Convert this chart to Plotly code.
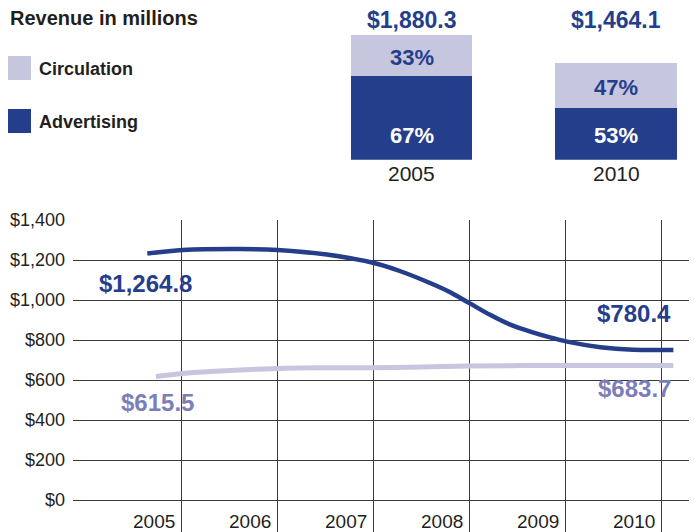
import plotly.graph_objects as go

# ---------------- data ----------------
bar_years = ["2005", "2010"]
advertising_totals = [1264.8, 780.4]
circulation_totals = [615.5, 683.7]

# line chart (x in years, label-centred)
adv_x = [2004.93, 2005.30, 2005.90, 2006.29, 2006.80, 2007.28, 2007.56, 2007.875,
         2008.08, 2008.29, 2008.50, 2008.71, 2008.92, 2009.125, 2009.29, 2009.65,
         2009.99, 2010.41]
adv_y = [1233, 1250, 1255, 1250, 1227, 1186, 1145, 1085,
         1040, 983, 926, 877, 842, 813, 793, 764,
         751, 750]
circ_x = [2005.02, 2005.30, 2006.29, 2006.80, 2007.29, 2007.65, 2008.29, 2009.29, 2010.41]
circ_y = [617, 633, 658, 661, 661, 664, 670, 673, 673]

year_labels = ["2005", "2006", "2007", "2008", "2009", "2010"]
year_values = [2005, 2006, 2007, 2008, 2009, 2010]
y_ticks = [0, 200, 400, 600, 800, 1000, 1200, 1400]

# ---------------- style ----------------
OFF = 8                      # page body margin in the browser
W, H = 697 - OFF, 532 - OFF
BLUE = "#253e8c"
LIGHT = "#c6c7df"
LIGHT_TXT = "#7b7eb9"
TXT = "#231f20"
GRID = "#3a3a3a"
FONT = "Liberation Sans, Arial, sans-serif"


def px(x):
    """window pixel x -> paper fraction"""
    return (x - OFF) / W


def py(y):
    """window pixel y -> paper fraction"""
    return 1 - (y - OFF) / H


fig = go.Figure()

# ---------------- top stacked bars ----------------
fig.add_trace(go.Bar(x=bar_years, y=advertising_totals, marker_color=BLUE,
                     marker_line_width=0, width=0.592, xaxis="x3", yaxis="y3",
                     hoverinfo="skip"))
fig.add_trace(go.Bar(x=bar_years, y=circulation_totals, marker_color=LIGHT,
                     marker_line_width=0, width=0.592, xaxis="x3", yaxis="y3",
                     hoverinfo="skip"))

# ---------------- lines ----------------
fig.add_trace(go.Scatter(x=adv_x, y=adv_y, mode="lines",
                         line=dict(color=BLUE, width=4.5, shape="spline", smoothing=0.8),
                         hoverinfo="skip"))
fig.add_trace(go.Scatter(x=circ_x, y=circ_y, mode="lines",
                         line=dict(color=LIGHT, width=5, shape="spline", smoothing=0.8),
                         hoverinfo="skip"))

ann = []
# title and legend
ann.append(dict(x=px(8), y=py(18), xref="paper", yref="paper", xanchor="left",
                yanchor="middle", text="<b>Revenue in millions</b>", showarrow=False,
                font=dict(size=20, color=TXT, family=FONT)))
ann.append(dict(x=px(37), y=py(69), xref="paper", yref="paper", xanchor="left",
                yanchor="middle", text="<b>Circulation</b>", showarrow=False,
                font=dict(size=18, color=TXT, family=FONT)))
ann.append(dict(x=px(37), y=py(122), xref="paper", yref="paper", xanchor="left",
                yanchor="middle", text="<b>Advertising</b>", showarrow=False,
                font=dict(size=18, color=TXT, family=FONT)))

shapes = [
    dict(type="rect", xref="paper", yref="paper", x0=px(8), x1=px(31),
         y0=py(80), y1=py(56), fillcolor=LIGHT, line_width=0),
    dict(type="rect", xref="paper", yref="paper", x0=px(8), x1=px(31),
         y0=py(133), y1=py(109), fillcolor=BLUE, line_width=0),
]

# bar annotations (category index positions)
for i, (yr, a, c) in enumerate(zip(bar_years, advertising_totals, circulation_totals)):
    tot = a + c
    ann.append(dict(x=i, y=py(20), xref="x3", yref="paper", yanchor="middle",
                    text=f"<b>${tot:,.1f}</b>", showarrow=False,
                    font=dict(size=23, color=BLUE, family=FONT)))
    ann.append(dict(x=i, y=a + c / 2, xref="x3", yref="y3", yanchor="middle",
                    yshift=-2, text=f"<b>{round(c / tot * 100)}%</b>", showarrow=False,
                    font=dict(size=22, color=BLUE, family=FONT)))
    ann.append(dict(x=i, y=py(135), xref="x3", yref="paper", yanchor="middle",
                    text=f"<b>{round(a / tot * 100)}%</b>", showarrow=False,
                    font=dict(size=22, color="white", family=FONT)))
    ann.append(dict(x=i, y=py(173), xref="x3", yref="paper", yanchor="middle",
                    text=yr, showarrow=False,
                    font=dict(size=21, color=TXT, family=FONT)))

# x year labels of line chart
for v, t in zip(year_values, year_labels):
    ann.append(dict(x=v, y=-105, xref="x", yref="y", yanchor="middle", text=t,
                    showarrow=False, font=dict(size=19, color=TXT, family=FONT)))

# line end labels
ann.append(dict(x=2004.906, y=1085, xref="x", yref="y", yanchor="middle",
                text=f"<b>${advertising_totals[0]:,.1f}</b>", showarrow=False,
                font=dict(size=24, color=BLUE, family=FONT)))
ann.append(dict(x=2005.04, y=490, xref="x", yref="y", yanchor="middle",
                text=f"<b>${circulation_totals[0]:,.1f}</b>", showarrow=False,
                font=dict(size=24, color=LIGHT_TXT, family=FONT)))
ann.append(dict(x=adv_x[-1], y=935, xref="x", yref="y", xanchor="right", yanchor="middle",
                text=f"<b>${advertising_totals[1]:,.1f}</b>", showarrow=False,
                font=dict(size=24, color=BLUE, family=FONT)))
ann.append(dict(x=circ_x[-1], y=560, xref="x", yref="y", xanchor="right", yanchor="middle",
                text=f"<b>${circulation_totals[1]:,.1f}</b>", showarrow=False,
                font=dict(size=24, color=LIGHT_TXT, family=FONT)))

grid_x = [v + 0.29 for v in year_values]

# category axis range so that bar centres sit at window x 411.5 and 616
cat_unit = 616 - 411.5
cat_range = [(OFF - 411.5) / cat_unit, (697 - 411.5) / cat_unit]

fig.update_layout(
    width=W, height=H,
    margin=dict(l=0, r=0, t=0, b=0),
    paper_bgcolor="white", plot_bgcolor="rgba(0,0,0,0)",
    showlegend=False, barmode="stack",
    font=dict(family=FONT, color=TXT),
    xaxis=dict(domain=[px(73), 1], range=[2004.156, 2010.656],
               tickvals=grid_x, showticklabels=False, ticks="",
               showgrid=True, gridcolor=GRID, gridwidth=1, zeroline=False,
               showline=False, automargin=False, fixedrange=True),
    yaxis=dict(domain=[0, py(220)], range=[-160, 1400],
               tickvals=y_ticks, ticktext=[f"${v:,}" for v in y_ticks],
               showgrid=True, gridcolor=GRID, gridwidth=1, zeroline=False,
               ticks="", ticklabelstandoff=7,
               tickfont=dict(size=18, color=TXT, family=FONT),
               showline=False, automargin=False, fixedrange=True),
    xaxis3=dict(domain=[0, 1], range=cat_range, type="category",
                categoryarray=bar_years, visible=False, anchor="y3"),
    yaxis3=dict(domain=[py(159.7), py(10)], range=[0, 2292 * (1 - 2 / 150)],
                visible=False, anchor="x3"),
    annotations=ann,
    shapes=shapes,
)

fig.write_html("out.html")
